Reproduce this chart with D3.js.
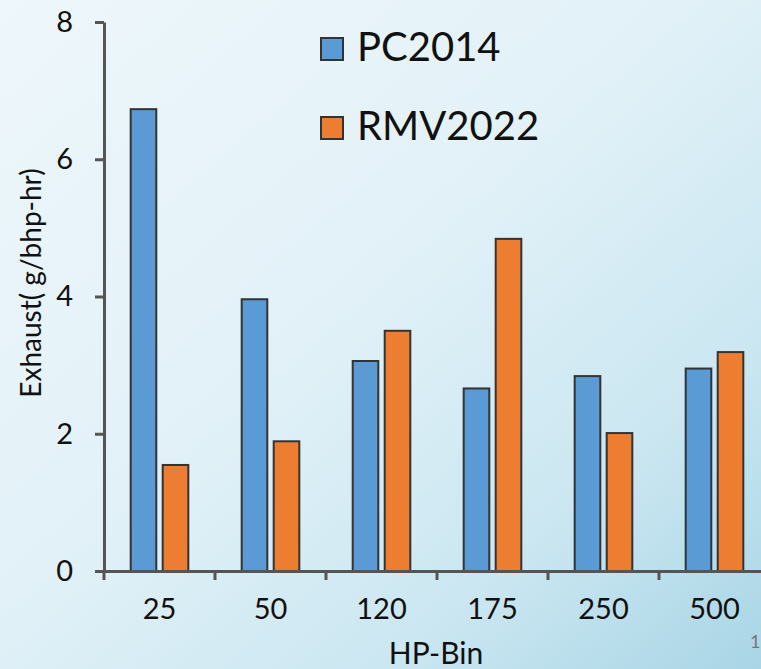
<!DOCTYPE html>
<html>
<head>
<meta charset="utf-8">
<script src="https://cdn.jsdelivr.net/npm/d3@7"></script>
<style>
  html, body { margin: 0; padding: 0; overflow: hidden; }
  svg { display: block; font-family: Lato, "Noto Sans", sans-serif; }
</style>
</head>
<body>
<svg id="chart" width="761" height="669"></svg>
<script>
const categories = ["25", "50", "120", "175", "250", "500"];
const seriesNames = ["PC2014", "RMV2022"];
const pc2014 = [6.73, 3.96, 3.06, 2.66, 2.84, 2.95];
const rmv2022 = [1.545, 1.89, 3.50, 4.84, 2.01, 3.19];
const yTicks = [0, 2, 4, 6, 8];
const colors = ["#5B9BD5", "#ED7D31"];

const svg = d3.select("#chart");
const W = 761, H = 669;

// background
const defs = svg.append("defs");
const g = defs.append("linearGradient").attr("id", "bg")
  .attr("x1", "0").attr("y1", "0").attr("x2", "1").attr("y2", "1");
g.append("stop").attr("offset", "0").attr("stop-color", "#eef7fb");
g.append("stop").attr("offset", "0.45").attr("stop-color", "#e2f1f8");
g.append("stop").attr("offset", "0.75").attr("stop-color", "#cbe7f1");
g.append("stop").attr("offset", "1").attr("stop-color", "#a9d5e6");
svg.append("rect").attr("width", W).attr("height", H).attr("fill", "url(#bg)");

const x0 = 104, x1 = 770, yTop = 22, yBot = 571;
const x = d3.scaleBand().domain(categories).range([x0, x1]).paddingInner(0).paddingOuter(0);
const xs = d3.scaleBand().domain(seriesNames).range([0, x.bandwidth()]).paddingInner(0.2).paddingOuter(0.834);
const y = d3.scaleLinear().domain([0, 8]).range([yBot, yTop]);

const data = categories.map((c, i) => ({ c, vals: [pc2014[i], rmv2022[i]] }));

// bars
const grp = svg.append("g").selectAll("g").data(data).join("g")
  .attr("transform", d => `translate(${x(d.c)},0)`);
grp.selectAll("rect").data(d => d.vals.map((v, j) => ({ v, s: seriesNames[j], j })))
  .join("rect")
  .attr("x", d => xs(d.s))
  .attr("width", xs.bandwidth())
  .attr("y", d => y(d.v))
  .attr("height", d => y(0) - y(d.v))
  .attr("fill", d => colors[d.j])
  .attr("stroke", "#333")
  .attr("stroke-width", 2);

// y axis
const yAxis = svg.append("g").attr("transform", `translate(${x0},0)`)
  .call(d3.axisLeft(y).tickValues(yTicks).tickFormat(d3.format("d")).tickSize(9).tickSizeOuter(0).tickPadding(22));
yAxis.select(".domain").attr("stroke", "#555").attr("stroke-width", 3);
yAxis.selectAll(".tick line").attr("stroke", "#555").attr("stroke-width", 3);
yAxis.selectAll(".tick text").attr("font-size", 29).attr("fill", "#111").attr("font-family", "Lato, sans-serif");

// x axis
const xAxis = svg.append("g").attr("transform", `translate(0,${yBot})`)
  .call(d3.axisBottom(x).tickSize(0).tickSizeOuter(0).tickPadding(27));
xAxis.select(".domain").attr("stroke", "#555").attr("stroke-width", 3);
xAxis.selectAll(".tick text").attr("font-size", 29).attr("fill", "#111").attr("font-family", "Lato, sans-serif");
// tick marks at band edges
const edges = categories.map(c => x(c)).concat([x1]);
xAxis.selectAll("line.edge").data(edges).join("line").attr("class", "edge")
  .attr("x1", d => d).attr("x2", d => d).attr("y1", 0).attr("y2", 9)
  .attr("stroke", "#555").attr("stroke-width", 3);

// axis titles
svg.append("text").attr("transform", "translate(41,283) rotate(-90)")
  .attr("text-anchor", "middle").attr("font-size", 28).attr("fill", "#111")
  .text("Exhaust( g/bhp-hr)");
svg.append("text").attr("x", 436).attr("y", 664)
  .attr("text-anchor", "middle").attr("font-size", 30).attr("fill", "#111")
  .text("HP-Bin");

// legend
const leg = svg.append("g").selectAll("g").data(seriesNames).join("g")
  .attr("transform", (d, i) => `translate(321,${38 + i * 79})`);
leg.append("rect").attr("width", 22).attr("height", 22)
  .attr("fill", (d, i) => colors[i]).attr("stroke", "#333").attr("stroke-width", 2);
leg.append("text").attr("x", 36).attr("y", 23).attr("font-size", 40).attr("fill", "#111")
  .text(d => d);

// slide number
svg.append("text").attr("x", 750).attr("y", 648).attr("font-size", 18).attr("fill", "#777").text("1");
</script>
</body>
</html>
